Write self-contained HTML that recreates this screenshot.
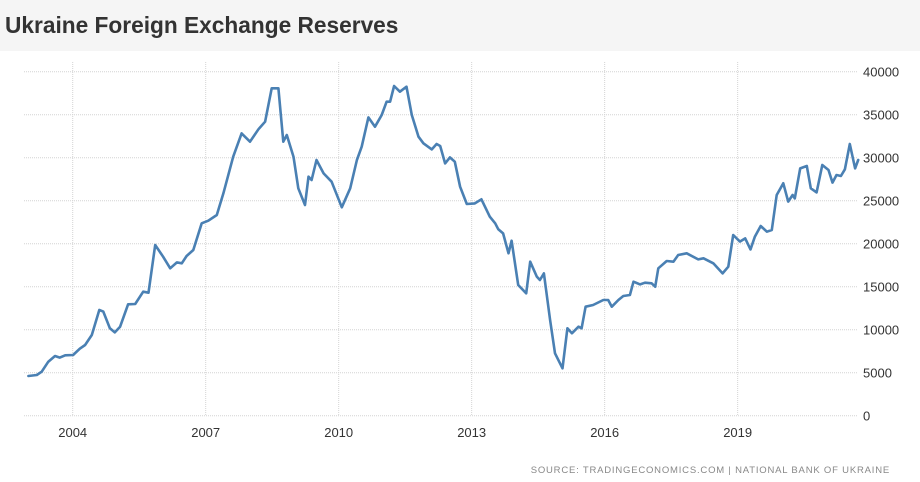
<!DOCTYPE html>
<html><head><meta charset="utf-8"><style>
body{margin:0;width:920px;height:482px;background:#fff;overflow:hidden;font-family:"Liberation Sans",sans-serif}
#hdr{position:absolute;left:0;top:0;width:920px;height:51px;background:#f5f5f5}
#title{position:absolute;left:5px;top:12px;font-size:22.7px;font-weight:bold;color:#333}
svg{position:absolute;left:0;top:0}
</style></head><body>
<div id="hdr"><div id="title">Ukraine Foreign Exchange Reserves</div></div>
<svg id="chart" width="920" height="482"></svg>
<script>
const years=[2003.0,2003.19,2003.30,2003.45,2003.60,2003.71,2003.83,2004.01,2004.16,2004.28,2004.43,2004.60,2004.69,2004.84,2004.95,2005.07,2005.25,2005.41,2005.59,2005.71,2005.86,2006.04,2006.20,2006.35,2006.46,2006.57,2006.72,2006.91,2007.06,2007.25,2007.40,2007.62,2007.81,2008.00,2008.19,2008.34,2008.49,2008.64,2008.75,2008.83,2008.98,2009.09,2009.24,2009.32,2009.39,2009.50,2009.66,2009.84,2010.07,2010.26,2010.41,2010.52,2010.67,2010.82,2010.97,2011.08,2011.16,2011.25,2011.38,2011.53,2011.65,2011.80,2011.91,2012.10,2012.21,2012.29,2012.40,2012.51,2012.62,2012.74,2012.89,2013.07,2013.22,2013.41,2013.53,2013.60,2013.71,2013.83,2013.90,2014.05,2014.23,2014.32,2014.47,2014.54,2014.63,2014.77,2014.88,2015.05,2015.16,2015.26,2015.41,2015.48,2015.57,2015.74,2015.97,2016.08,2016.16,2016.31,2016.42,2016.57,2016.65,2016.80,2016.91,2017.06,2017.14,2017.21,2017.40,2017.55,2017.66,2017.85,2018.11,2018.23,2018.45,2018.66,2018.79,2018.90,2019.05,2019.17,2019.29,2019.39,2019.52,2019.66,2019.77,2019.88,2020.03,2020.14,2020.24,2020.29,2020.41,2020.56,2020.65,2020.78,2020.91,2021.05,2021.14,2021.23,2021.33,2021.42,2021.53,2021.65,2021.72];
const reserves=[4620,4730,5120,6280,6940,6750,7020,7060,7790,8220,9380,12290,12100,10160,9690,10350,12950,12990,14420,14300,19850,18490,17140,17830,17720,18570,19270,22370,22680,23340,25860,30120,32830,31860,33300,34190,38070,38070,31860,32640,30120,26440,24500,27790,27410,29730,28180,27210,24230,26440,29730,31280,34690,33610,34960,36510,36510,38340,37680,38260,34960,32440,31670,30970,31590,31360,29340,30040,29540,26630,24620,24690,25160,23140,22370,21670,21200,18880,20350,15200,14230,17910,16170,15780,16550,11130,7250,5510,10160,9580,10350,10160,12680,12870,13450,13450,12680,13450,13920,14030,15580,15270,15470,15390,15000,17140,17990,17910,18690,18880,18180,18300,17720,16550,17330,21010,20240,20620,19340,20820,22060,21400,21590,25660,27020,24890,25660,25270,28760,29030,26440,25970,29150,28570,27100,27990,27870,28650,31590,28760,29730];
const yTicks=[0,5000,10000,15000,20000,25000,30000,35000,40000];
const xTicks=[2004,2007,2010,2013,2016,2019];
const NS='http://www.w3.org/2000/svg';
const svg=document.getElementById('chart');
function xs(v){return 72.7+(v-2004)*44.33;}
function ys(v){return 415.7-v*0.0086;}
function mk(t,a){const e=document.createElementNS(NS,t);for(const k in a)e.setAttribute(k,a[k]);svg.appendChild(e);return e;}
yTicks.forEach(v=>{
  const l=mk('line',{x1:24,x2:858,y1:ys(v),y2:ys(v),stroke:'#d4d4d4','stroke-dasharray':'1,1'});
  
  
  const t=mk('text',{x:863,y:ys(v)+5,'font-size':'13',fill:'#333'});
  t.textContent=v;
  
  
});
xTicks.forEach(v=>{
  const l=mk('line',{x1:xs(v),x2:xs(v),y1:62,y2:415.7,stroke:'#d4d4d4','stroke-dasharray':'1,1'});
  
  
  const t=mk('text',{x:xs(v),y:437,'font-size':'13',fill:'#333','text-anchor':'middle'});
  t.textContent=v;
  
  
});
const d=years.map((y,i)=>(i?'L':'M')+xs(y).toFixed(1)+','+ys(reserves[i]).toFixed(1)).join(' ');
const p=mk('path',{d:d,fill:'none',stroke:'#4a80b3','stroke-width':'2.6','stroke-linejoin':'round','stroke-linecap':'round'});


const s=mk('text',{x:890,y:473,'font-size':'9.5',fill:'#888','text-anchor':'end','letter-spacing':'0.8'});
s.textContent='SOURCE: TRADINGECONOMICS.COM | NATIONAL BANK OF UKRAINE';


</script>
</body></html>
